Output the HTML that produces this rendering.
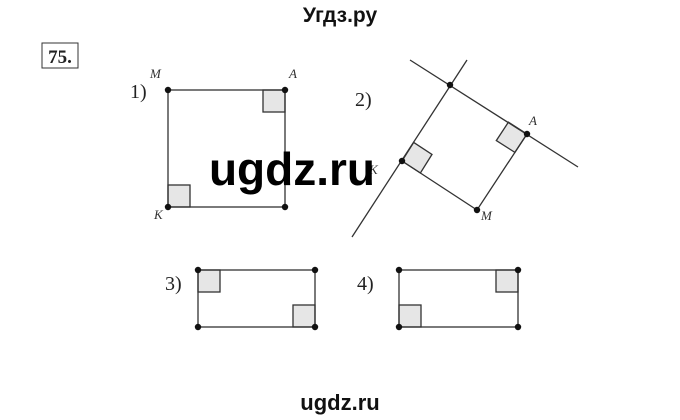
<!DOCTYPE html>
<html><head><meta charset="utf-8"><style>
html,body{margin:0;padding:0;background:#fff;width:680px;height:420px;overflow:hidden}
</style></head><body>
<svg width="680" height="420" xmlns="http://www.w3.org/2000/svg">
<text x="340" y="22" text-anchor="middle" font-family="Liberation Sans, sans-serif" font-weight="bold" font-size="21" fill="#111">Угдз.ру</text>
<rect x="42" y="43" width="36" height="25" fill="#fff" stroke="#333" stroke-width="1"/>
<text x="60" y="63" text-anchor="middle" font-family="Liberation Serif, serif" font-weight="bold" font-size="19" fill="#222">75.</text>
<g font-family="Liberation Serif, serif" font-size="20" fill="#222">
<text x="130" y="98">1)</text><text x="355" y="106">2)</text><text x="165" y="290">3)</text><text x="357" y="290">4)</text>
</g>
<g font-family="Liberation Serif, serif" font-style="italic" font-size="13" fill="#333">
<text x="150" y="78">M</text><text x="289" y="78">A</text><text x="154" y="219">K</text>
<text x="529" y="125">A</text><text x="369" y="174">K</text><text x="481" y="220">M</text>
</g>
<g stroke="#333" stroke-width="1.3" fill="#e6e6e6">
<rect x="263" y="90" width="22" height="22"/><rect x="168" y="185" width="22" height="22"/>
<rect x="198" y="270" width="22" height="22"/><rect x="293" y="305" width="22" height="22"/>
<rect x="496" y="270" width="22" height="22"/><rect x="399" y="305" width="22" height="22"/>
<polygon points="402,161 413.7,142.4 432,154.4 420.4,173"/>
<polygon points="527,134 508.4,122.2 496.3,140.6 514.9,152.4"/>
</g>
<g stroke="#333" stroke-width="1.3" fill="none">
<rect x="168" y="90" width="117" height="117"/>
<rect x="198" y="270" width="117" height="57"/>
<rect x="399" y="270" width="119" height="57"/>
<line x1="410" y1="60" x2="578" y2="167"/>
<line x1="467" y1="60" x2="352" y2="237"/>
<polyline points="402,161 477,210 527,134"/>
</g>
<g fill="#111">
<circle cx="168" cy="90" r="3.2"/><circle cx="285" cy="90" r="3.2"/><circle cx="168" cy="207" r="3.2"/><circle cx="285" cy="207" r="3.2"/>
<circle cx="450" cy="85" r="3.2"/><circle cx="527" cy="134" r="3.2"/><circle cx="402" cy="161" r="3.2"/><circle cx="477" cy="210" r="3.2"/>
<circle cx="198" cy="270" r="3.2"/><circle cx="315" cy="270" r="3.2"/><circle cx="198" cy="327" r="3.2"/><circle cx="315" cy="327" r="3.2"/>
<circle cx="399" cy="270" r="3.2"/><circle cx="518" cy="270" r="3.2"/><circle cx="399" cy="327" r="3.2"/><circle cx="518" cy="327" r="3.2"/>
</g>
<text x="292" y="185" text-anchor="middle" font-family="Liberation Sans, sans-serif" font-weight="bold" font-size="46" fill="#000">ugdz.ru</text>
<text x="340" y="410" text-anchor="middle" font-family="Liberation Sans, sans-serif" font-weight="bold" font-size="22" fill="#111">ugdz.ru</text>
</svg>
</body></html>
